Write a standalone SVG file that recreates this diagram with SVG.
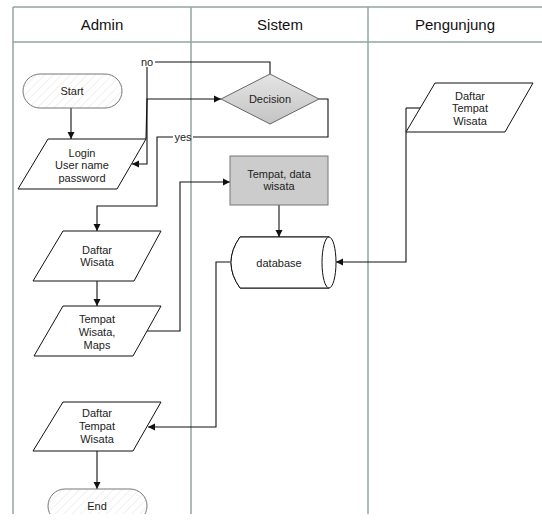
<svg xmlns="http://www.w3.org/2000/svg" width="542" height="521" viewBox="0 0 542 521">
<defs>
<style>
.lane{stroke:#92a69f;stroke-width:1.5;fill:none}
.hd{font-family:"Liberation Sans",Arial,sans-serif;font-size:15px;fill:#111;text-anchor:middle}
.t{font-family:"Liberation Sans",Arial,sans-serif;font-size:11px;fill:#222;text-anchor:middle}
.sh{fill:#fff;stroke:#111;stroke-width:1}
.term{fill:url(#hatch);stroke:#777;stroke-width:1}
.c{fill:none;stroke:#111;stroke-width:1.1}
.ca{fill:none;stroke:#111;stroke-width:1.1;marker-end:url(#ah)}
</style>
<pattern id="hatch" patternUnits="userSpaceOnUse" width="6" height="6" patternTransform="rotate(45)">
<rect width="6" height="6" fill="#fff"/>
<line x1="0" y1="0" x2="0" y2="6" stroke="#e2e2e2" stroke-width="1"/>
</pattern>
<linearGradient id="dg" x1="0" y1="0" x2="0" y2="1">
<stop offset="0" stop-color="#e4e4e4"/>
<stop offset="1" stop-color="#c4c4c4"/>
</linearGradient>
<marker id="ah" markerWidth="8" markerHeight="8" refX="7" refY="4" orient="auto" markerUnits="userSpaceOnUse">
<path d="M0,0.5 L7,4 L0,7.5 Z" fill="#111"/>
</marker>
<clipPath id="clip"><rect x="0" y="0" width="542" height="514"/></clipPath>
</defs>
<rect width="542" height="521" fill="#fff"/>
<g id="lanes">
<line class="lane" x1="13" y1="7" x2="542" y2="7"/>
<line class="lane" x1="13" y1="42" x2="542" y2="42"/>
<line class="lane" x1="13" y1="7" x2="13" y2="514"/>
<line class="lane" x1="191" y1="7" x2="191" y2="514"/>
<line class="lane" x1="368" y1="7" x2="368" y2="514"/>
<text class="hd" x="102" y="30">Admin</text>
<text class="hd" x="280" y="30">Sistem</text>
<text class="hd" x="455" y="30">Pengunjung</text>
</g>
<g id="connectors">
<line class="ca" x1="71" y1="108" x2="71" y2="139"/>
<polyline class="c" points="270,74 270,62 155,62"/>
<text class="t" x="147" y="66">no</text>
<polyline class="ca" points="147,67 147,164 132,164"/>
<polyline class="ca" points="146,139 147,99 221,99"/>
<polyline class="c" points="319,99 328,99 328,137 193,137"/>
<text class="t" x="183" y="141">yes</text>
<polyline class="ca" points="173,137 157,137 157,206 97,206 97,231"/>
<line class="ca" x1="97" y1="281" x2="97" y2="306"/>
<polyline class="ca" points="147,331 180,331 180,182 230,182"/>
<line class="ca" x1="279" y1="205" x2="279" y2="237"/>
<polyline class="c" points="420,108 406,108"/>
<polyline class="ca" points="406,108 406,262 336,262"/>
<polyline class="ca" points="230,262 216,262 216,427 148,427"/>
<line class="ca" x1="97" y1="451" x2="97" y2="489"/>
</g>
<g id="start">
<rect class="term" x="23" y="74" width="99" height="34" rx="17"/>
<text class="t" x="72" y="95">Start</text>
</g>
<g id="login">
<polygon class="sh" points="48,139 146,139 117,189 18,189"/>
<text class="t" x="82" y="157">Login</text>
<text class="t" x="82" y="169">User name</text>
<text class="t" x="82" y="182">password</text>
</g>
<g id="decision">
<polygon points="221,99 270,74 319,99 270,124" fill="url(#dg)" stroke="#666" stroke-width="1"/>
<text class="t" x="270" y="103">Decision</text>
</g>
<g id="tempatdata">
<rect x="230" y="156" width="98" height="49" fill="#cccccc" stroke="#777" stroke-width="1"/>
<text class="t" x="279" y="178">Tempat, data</text>
<text class="t" x="279" y="190">wisata</text>
</g>
<g id="database">
<path class="sh" d="M240,237 L329,237 M329,288 L240,288 Q222,262.5 240,237"/>
<path d="M240,237 L329,237 L329,288 L240,288 Q222,262.5 240,237 Z" fill="#fff" stroke="none"/>
<path d="M329,237 L240,237 Q222,262.5 240,288 L329,288" fill="none" stroke="#111"/>
<ellipse cx="329" cy="262.5" rx="7" ry="25.5" fill="#fff" stroke="#111"/>
<text class="t" x="279" y="267">database</text>
</g>
<g id="daftarwisata">
<polygon class="sh" points="63,231 161,231 134,281 33,281"/>
<text class="t" x="97" y="254">Daftar</text>
<text class="t" x="97" y="266">Wisata</text>
</g>
<g id="tempatmaps">
<polygon class="sh" points="63,306 161,306 133,356 34,356"/>
<text class="t" x="97" y="323">Tempat</text>
<text class="t" x="97" y="336">Wisata,</text>
<text class="t" x="97" y="349">Maps</text>
</g>
<g id="pengunjung-daftar">
<polygon class="sh" points="435,83 533,83 505,132 406,132"/>
<text class="t" x="470" y="100">Daftar</text>
<text class="t" x="470" y="112">Tempat</text>
<text class="t" x="470" y="125">Wisata</text>
</g>
<g id="admin-daftar">
<polygon class="sh" points="63,402 161,402 133,451 33,451"/>
<text class="t" x="97" y="417">Daftar</text>
<text class="t" x="97" y="430">Tempat</text>
<text class="t" x="97" y="443">Wisata</text>
</g>
<g id="end" clip-path="url(#clip)">
<rect class="term" x="48" y="489" width="99" height="34" rx="17"/>
<text class="t" x="97" y="510">End</text>
</g>
</svg>
